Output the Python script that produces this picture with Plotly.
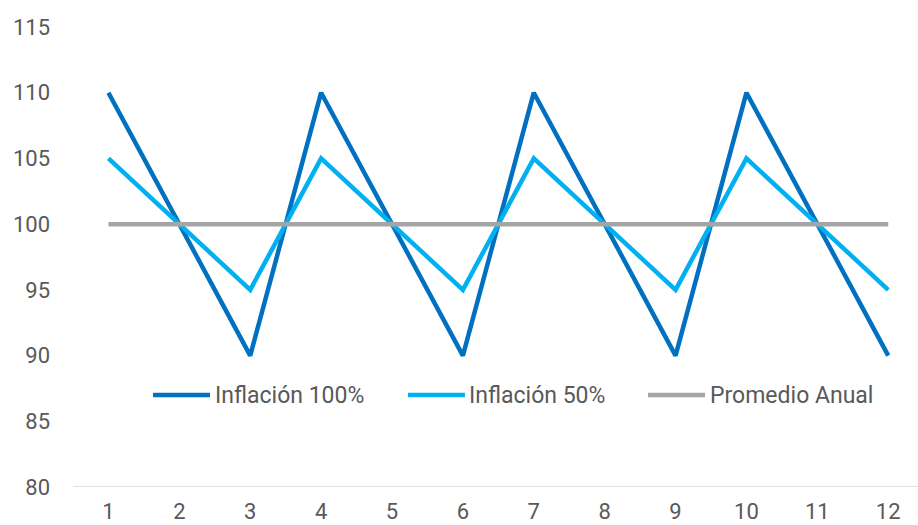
import plotly.graph_objects as go

meses = ["1", "2", "3", "4", "5", "6", "7", "8", "9", "10", "11", "12"]
inflacion_100 = [110, 100, 90, 110, 100, 90, 110, 100, 90, 110, 100, 90]
inflacion_50 = [105, 100, 95, 105, 100, 95, 105, 100, 95, 105, 100, 95]
promedio_anual = [100] * 12
y_ticks = [80, 85, 90, 95, 100, 105, 110, 115]

series = [
    ("Inflación 100%", inflacion_100, "#0070C0"),
    ("Inflación 50%", inflacion_50, "#00B0F0"),
    ("Promedio Anual", promedio_anual, "#A5A5A5"),
]

x = list(range(1, 13))
text_color = "#595959"

fig = go.Figure()
for name, values, color in series:
    fig.add_trace(go.Scatter(x=x, y=values, mode="lines", name=name,
                             line=dict(color=color, width=4.5), showlegend=False))

fig.update_layout(
    width=918, height=525,
    margin=dict(l=73, r=0, t=27, b=38, autoexpand=False),
    paper_bgcolor="white", plot_bgcolor="white",
    font=dict(family="Roboto", size=22, color=text_color),
    xaxis=dict(range=[0.5, 12.42], tickmode="array", tickvals=x, ticktext=meses,
               showgrid=False, zeroline=False, showline=False, ticks="",
               automargin=False, ticklabelstandoff=9,
               tickfont=dict(size=22, color=text_color)),
    yaxis=dict(range=[80, 115], tickmode="array", tickvals=y_ticks,
               showgrid=False, zeroline=False, showline=False, ticks="",
               automargin=False, ticklabelstandoff=22,
               tickfont=dict(size=22, color=text_color)),
)

# bottom baseline of the value axis
fig.add_shape(type="line", xref="paper", yref="y", x0=0, x1=1, y0=80, y1=80,
              line=dict(color="#D9D9D9", width=1.5), layer="below")

# legend drawn inside the plot: a line sample followed by its label
legend_y = 0.2
legend_starts = [0.0947, 0.3964, 0.6805]
sample_len = 0.0674
for (name, _, color), x0 in zip(series, legend_starts):
    fig.add_shape(type="line", xref="paper", yref="paper",
                  x0=x0, x1=x0 + sample_len, y0=legend_y, y1=legend_y,
                  line=dict(color=color, width=4.5))
    fig.add_annotation(xref="paper", yref="paper", x=x0 + sample_len + 0.003,
                       y=legend_y, text=name, showarrow=False,
                       xanchor="left", yanchor="middle",
                       font=dict(size=23, color=text_color))

fig.write_html("out.html")
